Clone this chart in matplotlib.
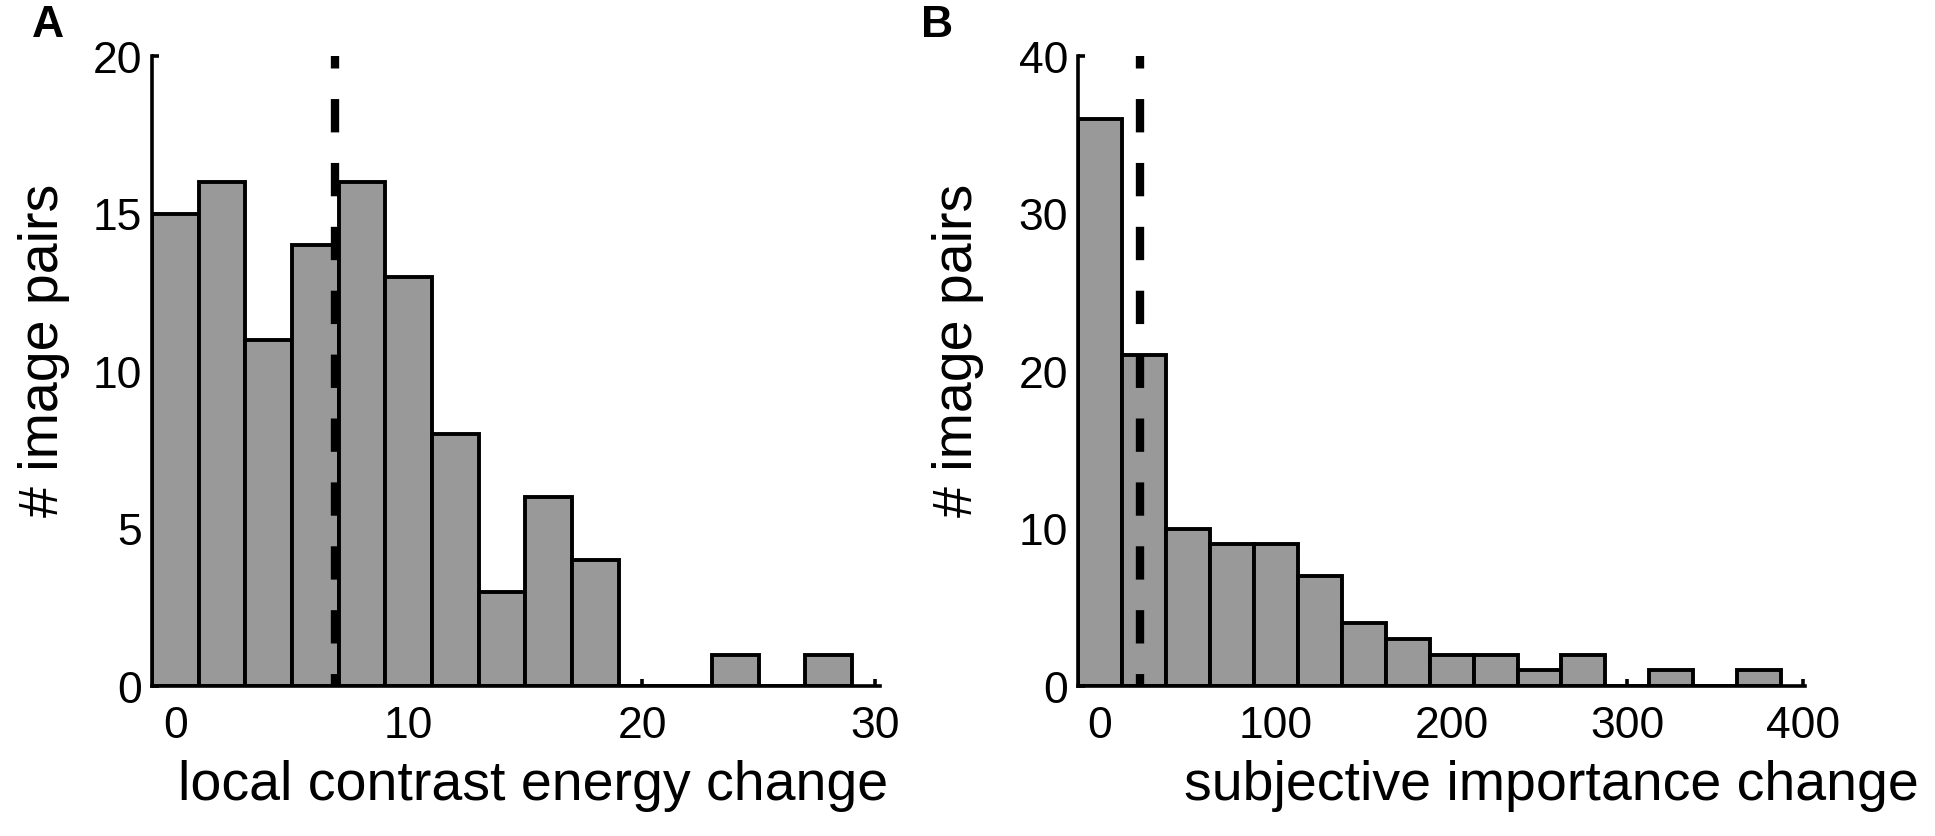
import matplotlib
matplotlib.use("Agg")
import matplotlib.pyplot as plt

plt.rcParams['font.family'] = ['Liberation Sans', 'DejaVu Sans']
plt.rcParams['lines.scale_dashes'] = False

# panel A: local contrast energy change
a_centers = [0, 2, 4, 6, 8, 10, 12, 14, 16, 18, 20, 22, 24, 26, 28]
a_counts = [15, 16, 11, 14, 16, 13, 8, 3, 6, 4, 0, 0, 1, 0, 1]
a_width = 2
a_median = 6.85
a_xticks = [0, 10, 20, 30]
a_yticks = [0, 5, 10, 15, 20]

# panel B: subjective importance change
b_centers = [0, 25, 50, 75, 100, 125, 150, 175, 200, 225, 250, 275, 300, 325, 350, 375]
b_counts = [36, 21, 10, 9, 9, 7, 4, 3, 2, 2, 1, 2, 0, 1, 0, 1]
b_width = 25
b_median = 22.8
b_xticks = [0, 100, 200, 300, 400]
b_yticks = [0, 10, 20, 30, 40]

W, H = 1935, 837
fig = plt.figure(figsize=(W / 100, H / 100), dpi=100)

bar_color = '#999999'
tick_fs = 32
label_fs = 40


def draw_panel(ax, centers, counts, width, median, xticks, yticks, xlim, xlabel, xlab_x, ylab_x):
    ax.bar(centers, counts, width=width, color=bar_color, edgecolor='black', linewidth=2.8, zorder=2)
    # dashed line = median
    ax.plot([median, median], [yticks[-1], 0], color='black', linewidth=6,
            linestyle=(15, (24, 22)), zorder=3)
    ax.set_xlim(*xlim)
    ax.set_ylim(0, yticks[-1])
    ax.set_xticks(xticks)
    ax.set_yticks(yticks)
    ax.set_axisbelow(True)
    for s in ['top', 'right']:
        ax.spines[s].set_visible(False)
    for s in ['left', 'bottom']:
        ax.spines[s].set_linewidth(2.6)
    ax.tick_params(direction='in', length=5, width=2.6, labelsize=tick_fs)
    ax.tick_params(axis='x', pad=14)
    ax.tick_params(axis='y', pad=7)
    ax.set_xlabel(xlabel, fontsize=label_fs, va='baseline')
    ax.set_ylabel('# image pairs', fontsize=label_fs, va='baseline')
    ax.xaxis.set_label_coords(xlab_x, -0.179)
    ax.yaxis.set_label_coords(ylab_x, 0.535)


bottom = 1 - 687 / H
height = (687 - 57) / H

axA = fig.add_axes([152 / W, bottom, (880 - 152) / W, height])
draw_panel(axA, a_centers, a_counts, a_width, a_median, a_xticks, a_yticks,
           (-1, 30.2), 'local contrast energy change', 0.523, -0.129)

axB = fig.add_axes([1078 / W, bottom, (1805 - 1078) / W, height])
draw_panel(axB, b_centers, b_counts, b_width, b_median, b_xticks, b_yticks,
           (-12.5, 401), 'subjective importance change', 0.651, -0.146)

fig.text(32 / W, 1 - 37 / H, 'A', fontsize=32, fontweight='bold', ha='left', va='baseline')
fig.text(921 / W, 1 - 37 / H, 'B', fontsize=32, fontweight='bold', ha='left', va='baseline')

fig.savefig('out.png', dpi=100)
